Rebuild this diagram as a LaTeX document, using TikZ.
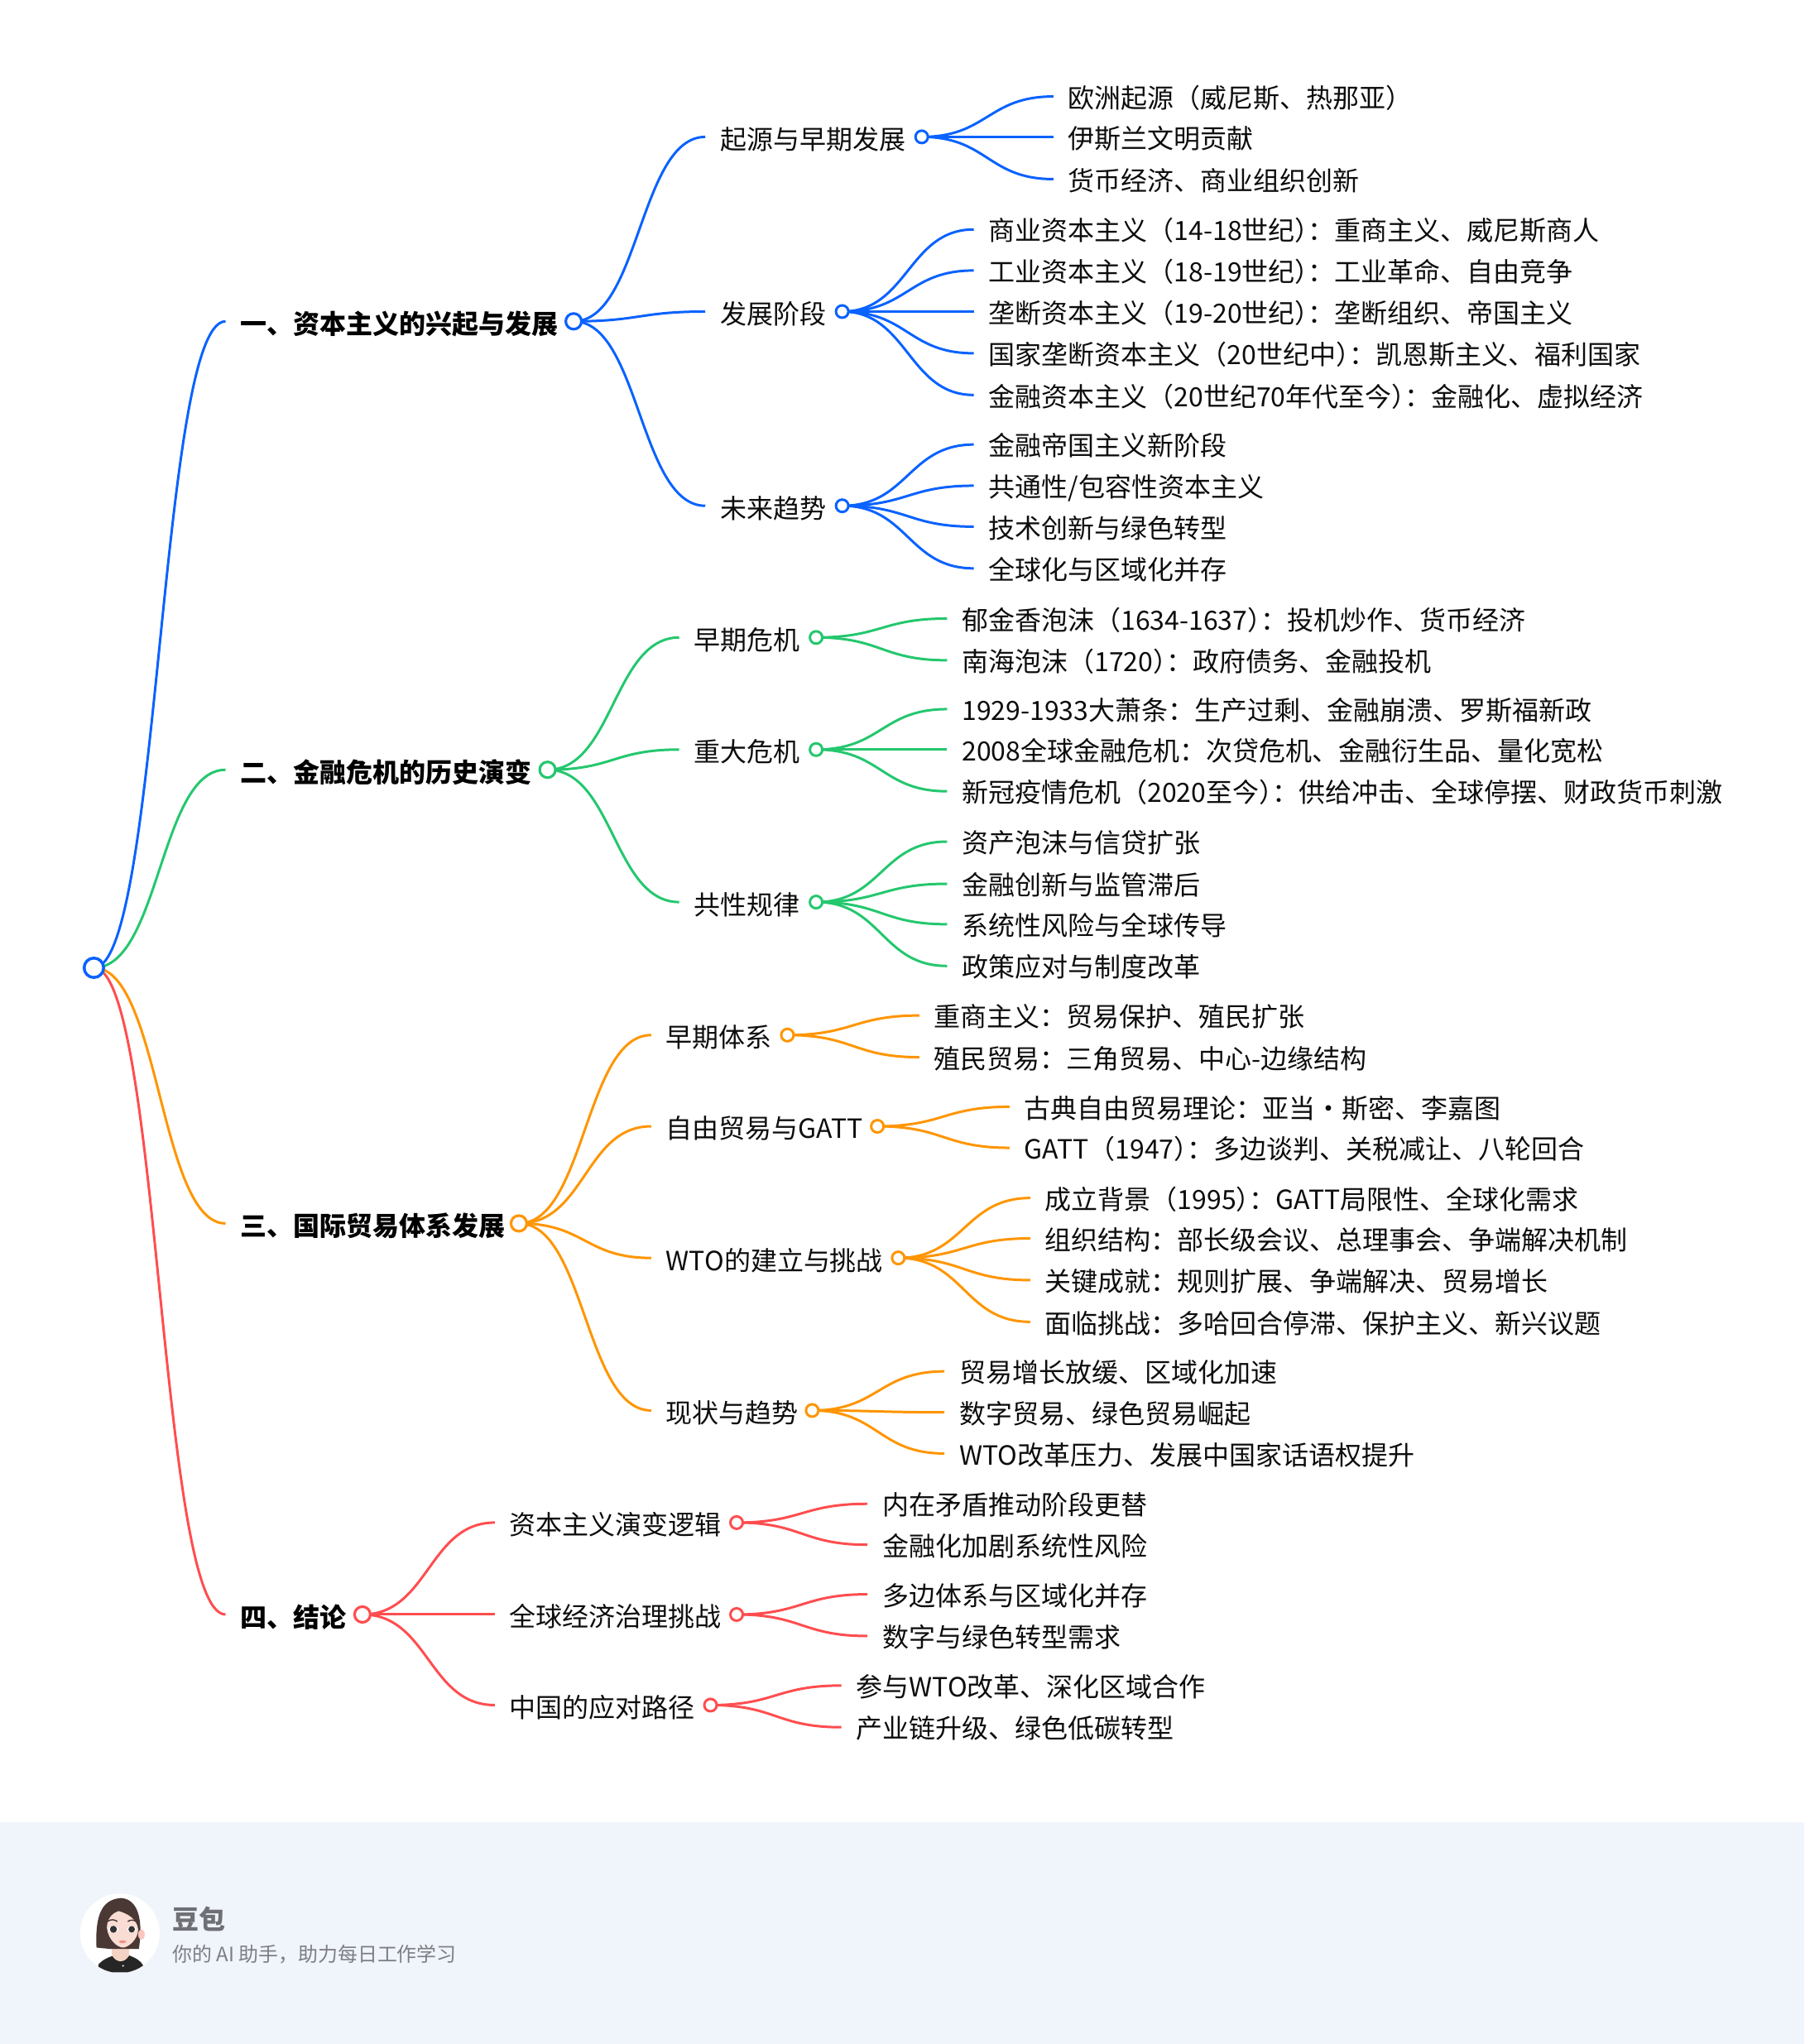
\documentclass[tikz,border=0pt]{standalone}
\usepackage{fontspec}
\setmainfont{Noto Sans CJK SC}
\usetikzlibrary{calc,backgrounds}
\definecolor{mapblue}{HTML}{0A62FF}
\definecolor{mapgreen}{HTML}{24C76E}
\definecolor{maporange}{HTML}{FF9500}
\definecolor{mapred}{HTML}{FF4D4F}
\definecolor{footbg}{HTML}{F0F4FB}
\definecolor{footgray}{HTML}{6E7075}
\definecolor{hairbrown}{HTML}{4A3834}
\definecolor{skinpink}{HTML}{F9DCD3}
\newcommand{\closecolon}{）\kern-.5em：}
\tikzstyle{topic}=[anchor=west,inner xsep=0.173cm,inner ysep=0pt,text height=10.2pt,text depth=1.5pt,font=\fontsize{9.1}{11}\selectfont\bfseries,text=black]
\tikzstyle{item}=[anchor=west,inner xsep=0.173cm,inner ysep=0pt,text height=9.3pt,text depth=1.5pt,font=\fontsize{9.1}{11}\selectfont,text=black!95]
\tikzstyle{subitem}=[item,text height=10pt]
\tikzstyle{rootdot}=[circle,draw=mapblue,fill=white,line width=1pt,minimum size=0.235cm,inner sep=0pt]
\tikzstyle{topicdot}=[circle,fill=white,line width=0.9pt,minimum size=0.19cm,inner sep=0pt]
\tikzstyle{itemdot}=[circle,fill=white,line width=0.85pt,minimum size=0.15cm,inner sep=0pt]
\tikzstyle{branch}=[draw,line width=0.85pt,to path={let \p1=(\tikztostart),\p2=(\tikztotarget),\n1={0.5*\x1+0.5*\x2} in .. controls (\n1,\y1) and (\n1,\y2) .. (\tikztotarget)}]
\begin{document}
\begin{tikzpicture}[x=0.01575cm,y=-0.01575cm]
    \useasboundingbox (0,0) rectangle (1384,1568);

    \node[rootdot] (rootd) at (72,742.4) {};

    % one block per main branch
    \foreach \x/\y/\name/\label in {173/246.5/a/{一、资本主义的兴起与发展}, 173/590.5/b/{二、金融危机的历史演变}, 173/938.5/c/{三、国际贸易体系发展}, 173/1238.5/d/{四、结论}}
        \node[topic] (\name) at (\x,\y) {\label};
    \foreach \x/\y/\name/\col in {440/246.5/a/mapblue, 420/590.5/b/mapgreen, 398/938.5/c/maporange, 278/1238.5/d/mapred}
        \node[topicdot, draw=\col] (\name d) at (\x,\y) {};

    \foreach \x/\y/\dotx/\name/\label in {541/105/707/a1/{起源与早期发展}, 541/239/646/a2/{发展阶段}, 541/388/646/a3/{未来趋势}} {
        \node[subitem] (\name) at (\x,\y) {\label};
        \node[itemdot, draw=mapblue] (\name d) at (\dotx,\y) {};
    }
    \foreach \x/\y/\dotx/\name/\label in {521/489/626/b1/{早期危机}, 521/575/626/b2/{重大危机}, 521/692/626/b3/{共性规律}} {
        \node[subitem] (\name) at (\x,\y) {\label};
        \node[itemdot, draw=mapgreen] (\name d) at (\dotx,\y) {};
    }
    \foreach \x/\y/\dotx/\name/\label in {499.5/794/604/c1/{早期体系}, 499.5/864/673/c2/{自由贸易与GATT}, 499.5/965/689/c3/{WTO的建立与挑战}, 499.5/1082/623/c4/{现状与趋势}} {
        \node[subitem] (\name) at (\x,\y) {\label};
        \node[itemdot, draw=maporange] (\name d) at (\dotx,\y) {};
    }
    \foreach \x/\y/\dotx/\name/\label in {379.5/1168/565/d1/{资本主义演变逻辑}, 379.5/1238.5/565/d2/{全球经济治理挑战}, 379.5/1308/545/d3/{中国的应对路径}} {
        \node[subitem] (\name) at (\x,\y) {\label};
        \node[itemdot, draw=mapred] (\name d) at (\dotx,\y) {};
    }

    % leaves
    \foreach \x/\y/\name/\label in {
        808/74/a11/{欧洲起源（威尼斯、热那亚）}, 808/105/a12/{伊斯兰文明贡献}, 808/137.4/a13/{货币经济、商业组织创新},
        747/176/a21/{商业资本主义（14-18世纪\closecolon 重商主义、威尼斯商人}, 747/207.5/a22/{工业资本主义（18-19世纪\closecolon 工业革命、自由竞争},
        747/239/a23/{垄断资本主义（19-20世纪\closecolon 垄断组织、帝国主义}, 747/271/a24/{国家垄断资本主义（20世纪中\closecolon 凯恩斯主义、福利国家},
        747/303/a25/{金融资本主义（20世纪70年代至今\closecolon 金融化、虚拟经济},
        747/341/a31/{金融帝国主义新阶段}, 747/372.6/a32/{共通性/包容性资本主义}, 747/404/a33/{技术创新与绿色转型}, 747/436/a34/{全球化与区域化并存},
        726.4/474.5/b11/{郁金香泡沫（1634-1637\closecolon 投机炒作、货币经济}, 726.4/506.5/b12/{南海泡沫（1720\closecolon 政府债务、金融投机},
        726.4/544/b21/{1929-1933大萧条：生产过剩、金融崩溃、罗斯福新政}, 726.4/575/b22/{2008全球金融危机：次贷危机、金融衍生品、量化宽松},
        726.4/607/b23/{新冠疫情危机（2020至今\closecolon 供给冲击、全球停摆、财政货币刺激},
        726.4/645.6/b31/{资产泡沫与信贷扩张}, 726.4/678/b32/{金融创新与监管滞后}, 726.4/709/b33/{系统性风险与全球传导}, 726.4/741/b34/{政策应对与制度改革},
        705.2/779/c11/{重商主义：贸易保护、殖民扩张}, 705.2/811/c12/{殖民贸易：三角贸易、中心-边缘结构},
        774.4/849/c21/{古典自由贸易理论：亚当・斯密、李嘉图}, 774.4/880.5/c22/{GATT（1947\closecolon 多边谈判、关税减让、八轮回合},
        790.2/919/c31/{成立背景（1995\closecolon GATT局限性、全球化需求}, 790.2/950/c32/{组织结构：部长级会议、总理事会、争端解决机制},
        790.2/982/c33/{关键成就：规则扩展、争端解决、贸易增长}, 790.2/1014/c34/{面临挑战：多哈回合停滞、保护主义、新兴议题},
        724.4/1052/c41/{贸易增长放缓、区域化加速}, 724.4/1083.4/c42/{数字贸易、绿色贸易崛起}, 724.4/1115/c43/{WTO改革压力、发展中国家话语权提升},
        665.4/1153.6/d11/{内在矛盾推动阶段更替}, 665.4/1185/d12/{金融化加剧系统性风险},
        665.4/1223/d21/{多边体系与区域化并存}, 665.4/1255/d22/{数字与绿色转型需求},
        645.4/1293/d31/{参与WTO改革、深化区域合作}, 645.4/1325/d32/{产业链升级、绿色低碳转型}}
        \node[item] (\name) at (\x,\y) {\label};

    \begin{pgfonlayer}{background}
    \foreach \source/\dest in {rootd/a, ad/a1, ad/a2, ad/a3, a1d/a11, a1d/a12, a1d/a13, a2d/a21, a2d/a22, a2d/a23, a2d/a24, a2d/a25, a3d/a31, a3d/a32, a3d/a33, a3d/a34}
        \path[branch, mapblue] (\source.center) to (\dest.west);
    \foreach \source/\dest in {rootd/b, bd/b1, bd/b2, bd/b3, b1d/b11, b1d/b12, b2d/b21, b2d/b22, b2d/b23, b3d/b31, b3d/b32, b3d/b33, b3d/b34}
        \path[branch, mapgreen] (\source.center) to (\dest.west);
    \foreach \source/\dest in {rootd/c, cd/c1, cd/c2, cd/c3, cd/c4, c1d/c11, c1d/c12, c2d/c21, c2d/c22, c3d/c31, c3d/c32, c3d/c33, c3d/c34, c4d/c41, c4d/c42, c4d/c43}
        \path[branch, maporange] (\source.center) to (\dest.west);
    \foreach \source/\dest in {rootd/d, dd/d1, dd/d2, dd/d3, d1d/d11, d1d/d12, d2d/d21, d2d/d22, d3d/d31, d3d/d32}
        \path[branch, mapred] (\source.center) to (\dest.west);
    \end{pgfonlayer}

    % footer
    \begin{pgfonlayer}{background}
    \fill[footbg] (0,1398) rectangle (1384,1568);
    \end{pgfonlayer}
    \node[anchor=west, inner sep=0pt, font=\fontsize{9.1}{11}\selectfont\bfseries, text=footgray] (brand) at (132,1472) {豆包};
    \node[anchor=west, inner sep=0pt, font=\fontsize{6.8}{8}\selectfont, text=footgray!90] (slogan) at (132,1499) {你的 AI 助手，助力每日工作学习};

    % avatar
    \begin{scope}[shift={(92,1483)}]
        \fill[white] (0,0) circle (30.5);
        \clip (0,0) circle (30.5);
        \fill[black!85] (-16.5,30) -- (-16.5,24) .. controls (-13,20) and (-8,18) .. (-4,17) -- (7,17) .. controls (12,19) and (16,21) .. (18,25) -- (18,30) -- cycle;
        \fill[skinpink!90!brown] (-6,8) rectangle (7,18);
        \fill[skinpink!90!brown] (-6,17) .. controls (-3,23) and (4,23) .. (7,17) -- cycle;
        \fill[hairbrown] (-18,11) .. controls (-19,-12) and (-15,-26) .. (1,-27) .. controls (14,-26) and (18,-10) .. (14.5,12) -- (4,12) -- (-8,12) -- cycle;
        \fill[skinpink!90!red] (16.5,1) ellipse (2.5 and 4);
        \fill[skinpink] (-10,-4) .. controls (-10,-10) and (-7,-15) .. (-1,-17) .. controls (6,-15) and (13,-11) .. (14,-3) .. controls (14,5) and (6,11) .. (2.5,11) .. controls (-2,11) and (-9,5) .. (-10,-4) -- cycle;
        \fill[white] (-5,-3) ellipse (4 and 2.6);
        \fill[white] (9,-3) ellipse (3.6 and 2.6);
        \fill[black!80] (-5,-3) circle (2.7);
        \fill[black!80] (9,-3) circle (2.5);
        \draw[hairbrown, line width=0.4pt] (-9.5,-9) .. controls (-7,-11) and (-4,-10.5) .. (-2,-9);
        \draw[hairbrown, line width=0.4pt] (6,-9) .. controls (8,-10.5) and (11,-10.5) .. (13,-8.5);
        \fill[red!35!skinpink!90!brown] (2,6.5) ellipse (2.8 and 1.1);
        \fill[white] (2.4,25) circle (0.7);
    \end{scope}
\end{tikzpicture}
\end{document}
